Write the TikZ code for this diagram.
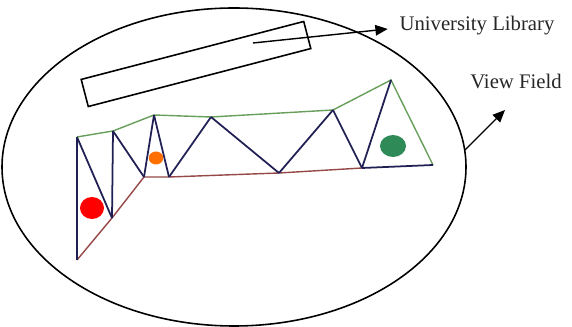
\documentclass[tikz,border=0pt]{standalone}
\usepackage{fontspec}
\setmainfont{Liberation Serif}
\usetikzlibrary{arrows.meta, positioning, calc}

\definecolor{chordgreen}{RGB}{104,158,92}
\definecolor{chordred}{RGB}{150,72,72}
\definecolor{webnavy}{RGB}{32,32,84}
\definecolor{dotgreen}{RGB}{46,139,87}
\definecolor{dotorange}{RGB}{255,112,0}

\tikzset{
  %% Outline of the view field and the library block
  outline/.style={draw=black, line width=0.9pt},
  %% Arrow to a label
  arr/.style={-{Triangle[length=7pt,width=6pt]},
              draw=black, line width=0.8pt},
  %% Label text
  lbl/.style={font=\fontsize{11.8}{14}\selectfont, text=black!85,
              inner sep=2pt},
  %% Truss members
  topchord/.style={draw=chordgreen, line width=0.8pt},
  botchord/.style={draw=chordred, line width=0.8pt},
  web/.style={draw=webnavy, line width=1pt},
  %% Position marker
  dot/.style={ellipse, fill=#1, draw=none, inner sep=0pt},
  dot/.default=red,
}
\usetikzlibrary{shapes.geometric}

\begin{document}
\begin{tikzpicture}[x=0.02cm, y=-0.02cm]

  \useasboundingbox (0,0) rectangle (572,327);

  %% view field
  \draw[outline] (234,167) ellipse [x radius=232, y radius=159];

  %% library block
  \node[outline, rectangle, minimum width=4.6cm, minimum height=0.56cm,
        rotate=14.6] (block) at (196,64) {};
  \coordinate (blockin) at (253,43);

  \node[lbl] (library) at (477,26) {University Library};
  \draw[arr] (blockin) -- ($(library.west)+(-8,3)$);

  \node[lbl] (field) at (516,81) {View Field};
  \coordinate (rim) at (465,150);
  \coordinate (fieldtip) at (505,110);
  \draw[arr] (rim) -- (fieldtip);

  %% truss joints
  \coordinate (a) at (77,137);
  \coordinate (b) at (77,260);
  \coordinate (c) at (113,131);
  \coordinate (d) at (112,218);
  \coordinate (e) at (144,177);
  \coordinate (f) at (154,115);
  \coordinate (g) at (169,177);
  \coordinate (h) at (211,117);
  \coordinate (i) at (279,173);
  \coordinate (j) at (333,110);
  \coordinate (k) at (362,168);
  \coordinate (l) at (391,80);
  \coordinate (m) at (433,165);

  \draw[topchord] (a) -- (c) -- (f) -- (h) -- (j) -- (l) -- (m);
  \draw[botchord] (b) -- (d) -- (e) -- (g) -- (i) -- (k);
  \foreach \p/\q in {a/b, a/d, c/d, c/e, e/f, f/g, g/h,
                     h/i, i/j, j/k, k/l, k/m}
    \draw[web] (\p) -- (\q);

  %% markers
  \node[dot=red, minimum width=0.48cm, minimum height=0.44cm]
       (reddot) at (92,208) {};
  \node[dot=dotorange, minimum width=0.29cm, minimum height=0.26cm]
       (orangedot) at (156,158) {};
  \node[dot=dotgreen, minimum width=0.52cm, minimum height=0.44cm]
       (greendot) at (393,146) {};

\end{tikzpicture}
\end{document}
